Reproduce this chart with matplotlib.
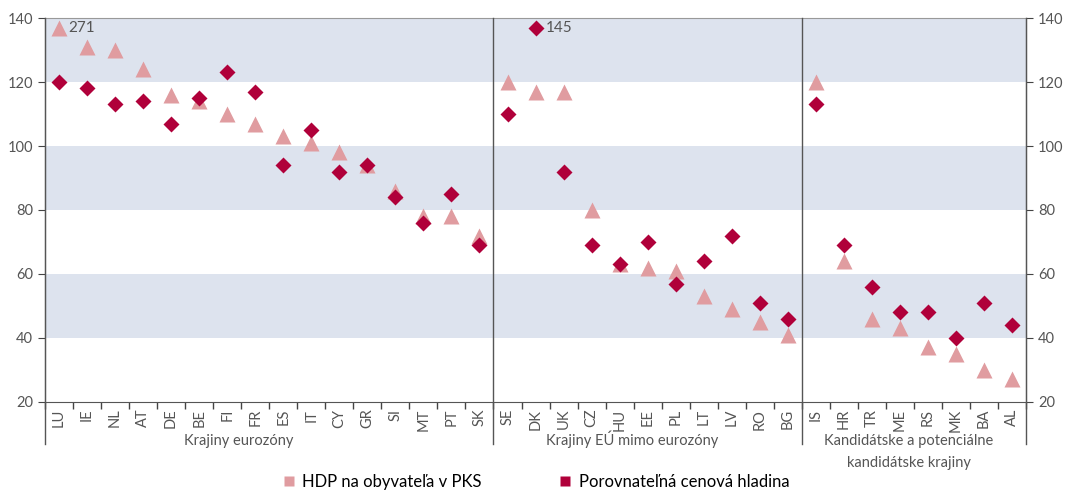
#!usr/bin/env python3

'''
HDP na obyvatela v PKS vs. porovnatelna cenova hladina, by country group
'''

import numpy as np
import matplotlib
matplotlib.use('Agg')
import matplotlib.pyplot as plt
from matplotlib.lines import Line2D

EURO = ['LU', 'IE', 'NL', 'AT', 'DE', 'BE', 'FI', 'FR', 'ES', 'IT', 'CY',
        'GR', 'SI', 'MT', 'PT', 'SK']
NON_EURO = ['SE', 'DK', 'UK', 'CZ', 'HU', 'EE', 'PL', 'LT', 'LV', 'RO', 'BG']
CANDIDATES = ['IS', 'HR', 'TR', 'ME', 'RS', 'MK', 'BA', 'AL']

GDP_EURO = [271, 131, 130, 124, 116, 114, 110, 107, 103, 101, 98, 94, 86, 78,
            78, 72]
GDP_NON_EURO = [120, 117, 117, 80, 63, 62, 61, 53, 49, 45, 41]
GDP_CAND = [120, 64, 46, 43, 37, 35, 30, 27]

PRICE_EURO = [120, 118, 113, 114, 107, 115, 123, 117, 94, 105, 92, 94, 84, 76,
              85, 69]
PRICE_NON_EURO = [110, 145, 92, 69, 63, 70, 57, 64, 72, 51, 46]
PRICE_CAND = [113, 69, 56, 48, 48, 40, 51, 44]

GROUP_LABELS = [['Krajiny eurozóny'], ['Krajiny EÚ mimo eurozóny'],
                ['Kandidátske a potenciálne', 'kandidátske krajiny']]
# label centres, shifted left of the group middle as in the original
GROUP_LABEL_SHIFT = [-1.1, -0.57, -0.18]

GDP_COLOR = '#e09ca0'
PRICE_COLOR = '#b0003a'
BAND_COLOR = '#dde3ee'
TEXT_COLOR = '#555555'
Y_CAP = 137  # values above the axis are drawn here with their number

plt.rcParams['font.family'] = ['Lato', 'DejaVu Sans']


def main():
    countries = EURO + NON_EURO + CANDIDATES
    gdp = np.array(GDP_EURO + GDP_NON_EURO + GDP_CAND, dtype=float)
    price = np.array(PRICE_EURO + PRICE_NON_EURO + PRICE_CAND, dtype=float)
    x = np.arange(len(countries))

    fig = plt.figure(figsize=(10.7, 4.9), dpi=100)
    ax = fig.add_axes([0.042, 0.18, 0.917, 0.783])

    # shaded bands
    for lo in (40, 80, 120):
        ax.axhspan(lo, lo + 20, color=BAND_COLOR, zorder=0, lw=0)

    ax.plot(x, np.minimum(gdp, Y_CAP), ls='none', marker='^', ms=11,
            color=GDP_COLOR, mec='none', zorder=3)
    ax.plot(x, np.minimum(price, Y_CAP), ls='none', marker='D', ms=8,
            color=PRICE_COLOR, mec='none', zorder=4)

    # labels for the values off the chart
    for vals in (gdp, price):
        for i in np.where(vals > Y_CAP)[0]:
            ax.text(x[i] + 0.35, Y_CAP, '%d' % vals[i], va='center',
                    ha='left', fontsize=11, color=TEXT_COLOR, zorder=5)

    n = len(countries)
    ax.set_xlim(-0.5, n - 0.5)
    ax.set_ylim(20, 140)
    ax.set_yticks(range(20, 141, 20))
    ax.set_xticks(x)
    ax.set_xticklabels(countries, rotation=90, fontsize=10.5,
                       color=TEXT_COLOR)
    ax.set_xticks(np.arange(-0.5, n, 1.0), minor=True)
    ax.tick_params(axis='x', which='major', length=0, pad=5)
    ax.tick_params(axis='x', which='minor', length=5, direction='out',
                   color='#444444', width=1)
    ax.tick_params(axis='y', labelsize=10.5, labelcolor=TEXT_COLOR, length=5,
                   color='#444444', labelleft=True, labelright=True,
                   left=True, right=True)

    for side in ('left', 'right', 'bottom'):
        ax.spines[side].set_color('#555555')
    ax.spines['top'].set_color('#999999')

    # group separators and extended side lines
    sizes = [len(EURO), len(NON_EURO), len(CANDIDATES)]
    edges = np.concatenate([[0], np.cumsum(sizes)]) - 0.5
    for e in edges:
        ax.axvline(e, ymin=-0.11, ymax=1, color='#555555', lw=1,
                   clip_on=False, zorder=6)
    trans = ax.get_xaxis_transform()
    for k, lines in enumerate(GROUP_LABELS):
        mid = (edges[k] + edges[k + 1]) / 2 + GROUP_LABEL_SHIFT[k]
        for j, line in enumerate(lines):
            ax.text(mid, -0.112 - 0.057 * j, line, transform=trans,
                    ha='center', va='baseline', fontsize=10.5,
                    color=TEXT_COLOR)

    handles = [Line2D([], [], ls='none', marker='s', ms=7, color=GDP_COLOR,
                      mec='none'),
               Line2D([], [], ls='none', marker='s', ms=7, color=PRICE_COLOR,
                      mec='none')]
    fig.legend(handles, ['HDP na obyvateľa v PKS',
                         'Porovnateľná cenová hladina'],
               loc='lower center', bbox_to_anchor=(0.5, -0.03), ncol=2,
               frameon=False, fontsize=12, handletextpad=0.3,
               columnspacing=4.5, handlelength=1)

    fig.savefig('out.png', dpi=100)


if __name__ == '__main__':
    main()
